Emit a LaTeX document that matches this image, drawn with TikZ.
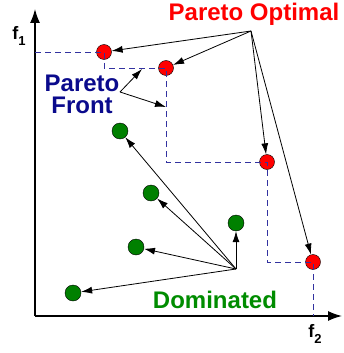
\documentclass[tikz,border=0pt]{standalone}
\usepackage{fontspec}
\setmainfont{Liberation Sans}
\usetikzlibrary{arrows.meta}
\definecolor{optred}{RGB}{255,0,0}
\definecolor{domgreen}{RGB}{0,140,0}
\definecolor{dotgreen}{RGB}{0,128,0}
\definecolor{frontblue}{RGB}{10,10,140}
\definecolor{stairblue}{RGB}{50,50,160}
\newcommand{\axsub}[1]{\raisebox{-6pt}{\fontsize{13}{13}\selectfont #1}}

\begin{document}
\begin{tikzpicture}[x=1pt, y=1pt,
    optimal/.style={circle, draw=black, fill=optred, minimum size=15pt, inner sep=0pt},
    dominated/.style={circle, draw=black, fill=dotgreen, minimum size=16pt, inner sep=0pt},
    arrow/.style={-{Latex[length=11pt,width=7pt]}, line width=0.8pt},
    axis/.style={-{Latex[length=14pt,width=10pt]}, line width=1.4pt},
    stair/.style={draw=stairblue, line width=0.8pt, dash pattern=on 6pt off 4pt},
    bigtext/.style={font=\fontsize{24}{22}\selectfont\bfseries, align=center},
    axistext/.style={font=\fontsize{18}{18}\selectfont\bfseries}
  ]
  \useasboundingbox (0,0) rectangle (343,-353);

  % axes
  \coordinate (origin) at (35,-316);
  \draw[axis] (origin) -- (35,-9);
  \draw[axis] (origin) -- (342,-316);
  \node[axistext] (f1) at (19,-36) {f\axsub{1}};
  \node[axistext] (f2) at (315,-334) {f\axsub{2}};

  % pareto optimal points
  \node[optimal] (p1) at (104,-52)  {};
  \node[optimal] (p2) at (166,-68)  {};
  \node[optimal] (p3) at (267,-162) {};
  \node[optimal] (p4) at (313,-262) {};

  % dominated points
  \node[dominated] (d1) at (120,-131) {};
  \node[dominated] (d2) at (151,-193) {};
  \node[dominated] (d3) at (136,-247) {};
  \node[dominated] (d4) at (73,-293)  {};
  \node[dominated] (d5) at (236,-223) {};

  % front
  \draw[stair] (35,-52) -- (p1.center) -- (p1.center |- p2.center) -- (p2.center)
    -- (p2.center |- p3.center) -- (p3.center) -- (p3.center |- p4.center)
    -- (p4.center) -- (p4.center |- origin);

  % labels
  \node[bigtext, text=optred]    (optlabel)   at (254,-14)  {Pareto Optimal};
  \node[bigtext, text=frontblue] (frontlabel) at (82,-94)   {Pareto\\Front};
  \node[bigtext, text=domgreen]  (domlabel)   at (215,-300) {Dominated};

  \coordinate (optsrc)   at (251,-31);
  \coordinate (frontsrc) at (120,-92);
  \coordinate (domsrc)   at (236,-269);
  \coordinate (fronttip1) at (142,-69);
  \coordinate (fronttip2) at (166,-107);

  \foreach \p in {p1,p2,p3,p4}
    \draw[arrow] (optsrc) -- (\p);
  \draw[arrow] (frontsrc) -- (fronttip1);
  \draw[arrow] (frontsrc) -- (fronttip2);
  \foreach \d in {d1,d2,d3,d4,d5}
    \draw[arrow] (domsrc) -- (\d);
\end{tikzpicture}
\end{document}
